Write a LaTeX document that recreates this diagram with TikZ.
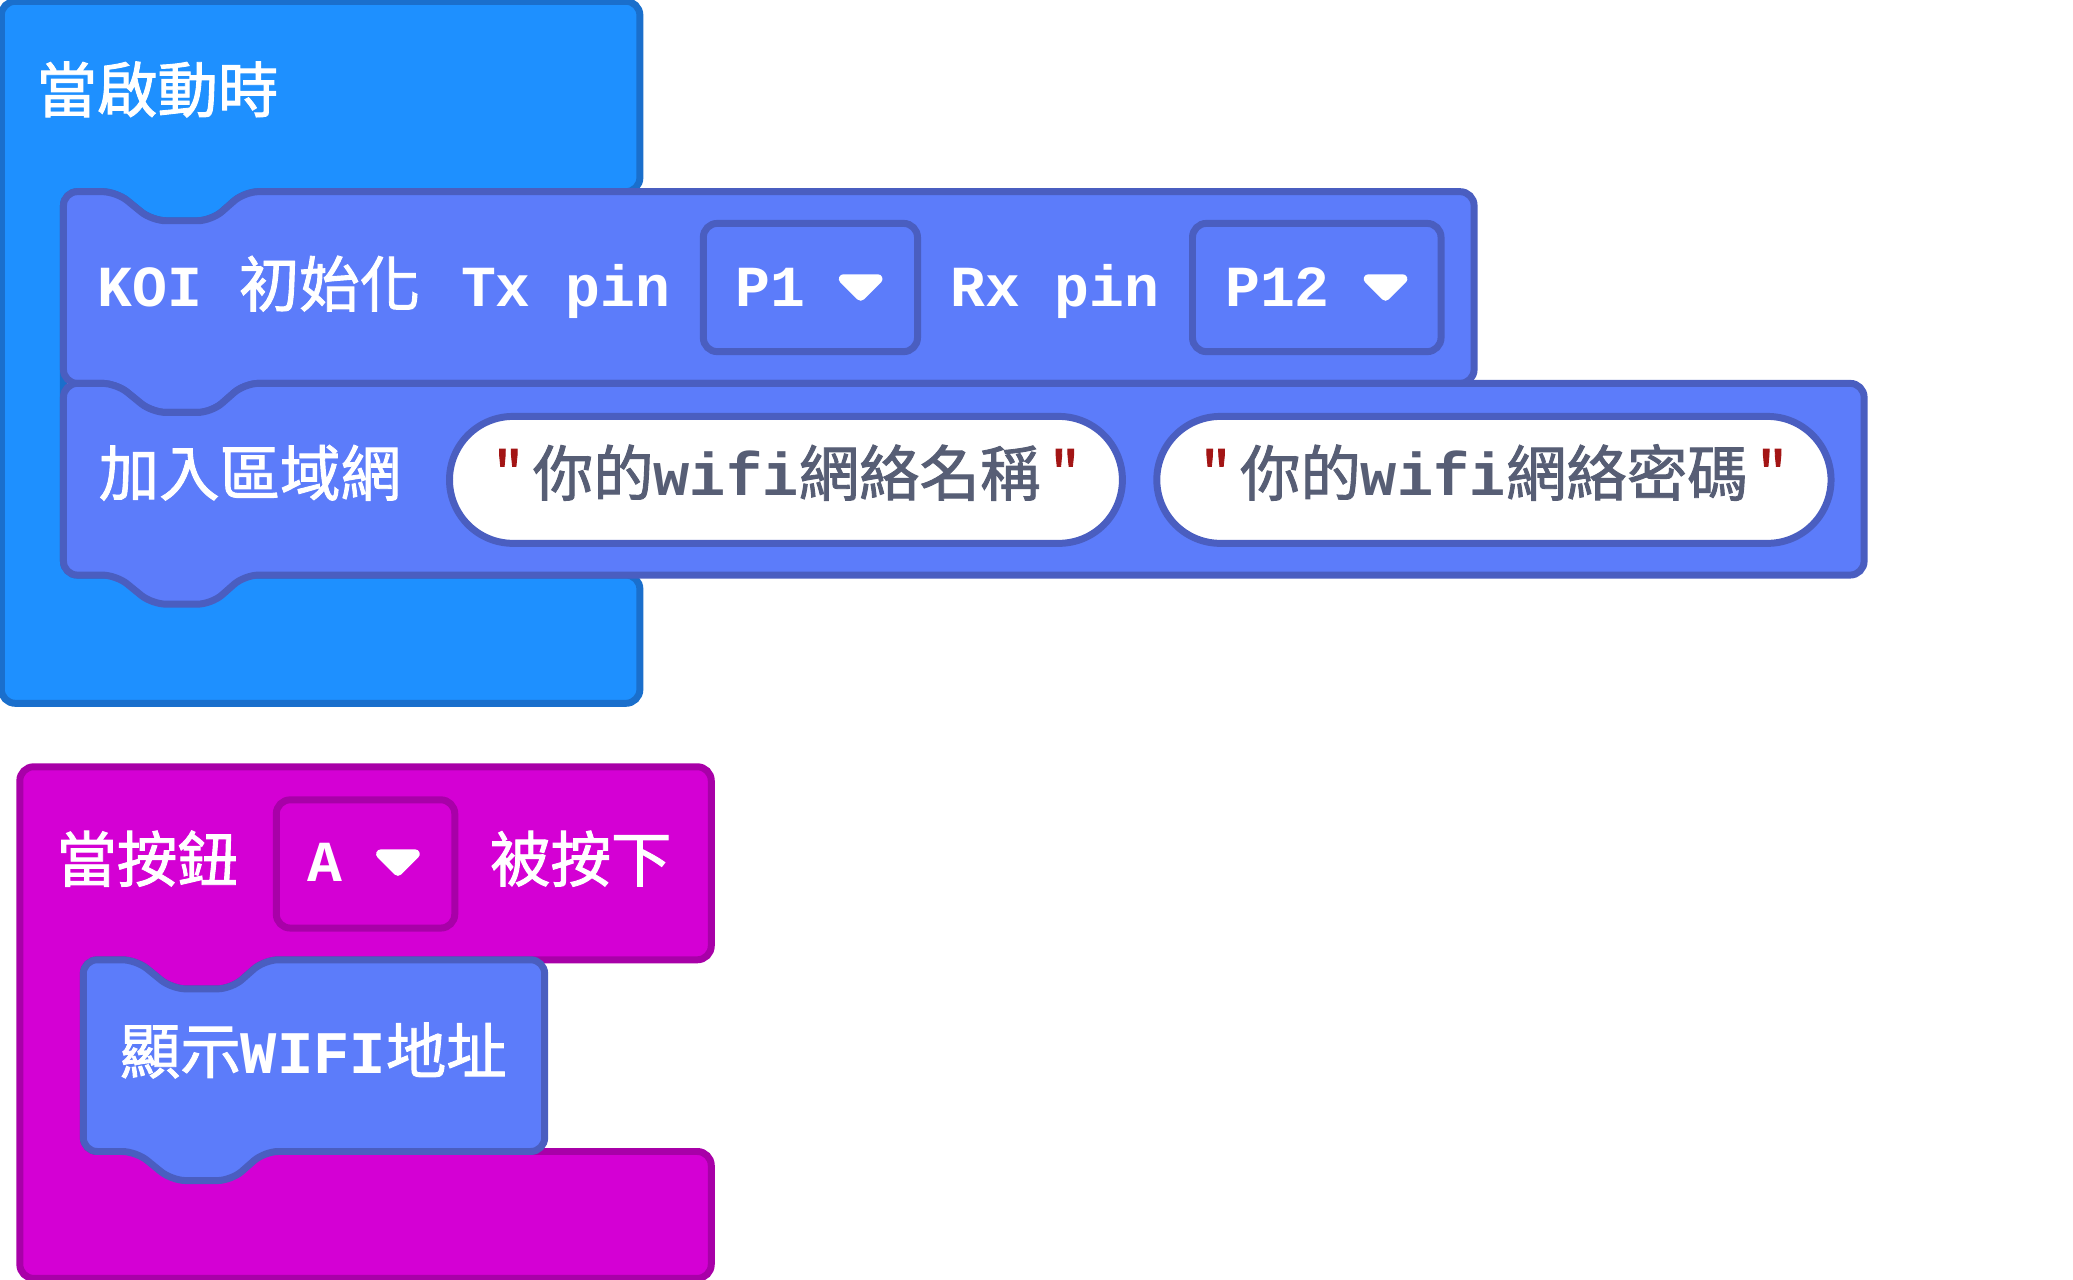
\documentclass[tikz,border=0pt]{standalone}
\usepackage{fontspec}
\newfontfamily\cjk{Noto Sans CJK TC}[FakeBold=1.5]
\newfontfamily\mono{Liberation Mono}[BoldFont={Liberation Mono Bold}]
\definecolor{hatb}{HTML}{1E90FF}\definecolor{hatbs}{HTML}{1A6FCC}
\definecolor{koi}{HTML}{5C7CFA}\definecolor{kois}{HTML}{4A5EC0}
\definecolor{mag}{HTML}{D400D4}\definecolor{mags}{HTML}{A800A8}
\definecolor{strt}{HTML}{575E75}\definecolor{quo}{HTML}{A31515}
\tikzset{
 hat/.style={fill=hatb,draw=hatbs,line width=1.5pt,rounded corners=3pt},
 evt/.style={fill=mag,draw=mags,line width=1.5pt,rounded corners=3pt},
 blk/.style={fill=koi,draw=kois,line width=1.5pt,rounded corners=3pt},
 dd/.style={draw=kois,line width=1.5pt,rounded corners=3pt},
 ddm/.style={draw=mags,line width=1.5pt,rounded corners=3pt},
 str/.style={fill=white,draw=kois,line width=1.5pt,rounded corners=0.48cm},
 lab/.style={text=white,font=\fontsize{13pt}{15pt}\selectfont\cjk,anchor=west,inner sep=0,text height=0.9em,text depth=0.05em},
 mlab/.style={text=white,font=\fontsize{12.5pt}{14pt}\selectfont\mono\bfseries,anchor=west,inner sep=0,text height=0.9em,text depth=0.05em},
 slab/.style={text=strt,font=\fontsize{13pt}{15pt}\selectfont\cjk,inner sep=0,text height=0.9em,text depth=0.05em},
 tri/.style={fill=white,draw=white,line width=2pt,line join=round}
}
\newcommand\stmt[5]{\draw[#1] (#2,#3) -- ({#2+40},#3) -- ({#2+67},{#3+22}) -- ({#2+112},{#3+22}) -- ({#2+137},#3) -- (#4,#3) -- (#4,#5) -- ({#2+137},#5) -- ({#2+112},{#5+22}) -- ({#2+67},{#5+22}) -- ({#2+40},#5) -- (#2,#5) -- cycle;}
\newcommand\ddtri[2]{\draw[tri] ({#1-13},{#2-6}) -- ({#1+13},{#2-6}) -- (#1,{#2+7}) -- cycle;}
\begin{document}
\begin{tikzpicture}[x=0.01cm,y=-0.01cm]
\useasboundingbox (0,0) rectangle (1568,968);
% hat
\draw[hat] (1,1) -- (484,1) -- (484,145) -- (185,145) -- (160,167) -- (115,167) -- (88,145) -- (48,145) -- (48,435) -- (484,435) -- (484,532) -- (1,532) -- cycle;
\node[lab] (h) at (27,70) {當啟動時};
% block1
\stmt{blk}{48}{145}{1115}{290}
\node[mlab] (k) at (73,217) {KOI};
\node[lab] (k2) at (180,217) {初始化};
\node[mlab] (k3) at (348,217) {Tx pin};
\draw[dd] (532,169) rectangle (694,266);
\node[mlab] (p1) at (556,217) {P1};
\ddtri{651}{217}
\node[mlab] (k4) at (718,217) {Rx pin};
\draw[dd] (902,169) rectangle (1090,266);
\node[mlab] (p12) at (926,217) {P12};
\ddtri{1048}{217}
% block2
\stmt{blk}{48}{290}{1410}{435}
\node[lab] (j) at (74,360) {加入區域網};
\draw[str] (340,315) rectangle (849,411);
\node[slab] (s1) at (595,360) {\textcolor{quo}{"\,}你的{\mono\bfseries wifi}網絡名稱\textcolor{quo}{\,"}};
\draw[str] (875,315) rectangle (1385,411);
\node[slab] (s2) at (1130,360) {\textcolor{quo}{"\,}你的{\mono\bfseries wifi}網絡密碼\textcolor{quo}{\,"}};
% event
\draw[evt] (15,580) -- (538,580) -- (538,726) -- (200,726) -- (175,748) -- (130,748) -- (103,726) -- (63,726) -- (63,871) -- (538,871) -- (538,967) -- (15,967) -- cycle;
\node[lab] (e1) at (42,652) {當按鈕};
\draw[ddm] (209,605) rectangle (344,702);
\node[mlab] (a) at (232,652) {A};
\ddtri{301}{652}
\node[lab] (e2) at (370,652) {被按下};
\stmt{blk}{63}{726}{412}{871}
\node[lab] (w) at (90,797) {顯示{\mono\bfseries WIFI}地址};
\end{tikzpicture}
\end{document}
